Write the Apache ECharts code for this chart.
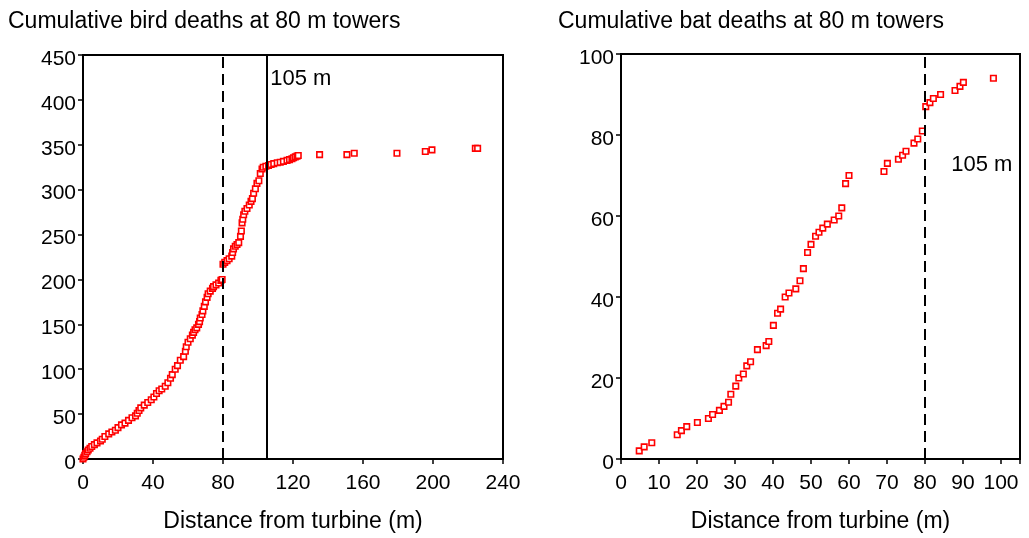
<!DOCTYPE html>
<html>
<head>
<meta charset="utf-8">
<script src="https://cdn.jsdelivr.net/npm/echarts@6/dist/echarts.min.js"></script>
<style>
  html, body { margin: 0; padding: 0; background: #fff; }
  #chart { width: 1029px; height: 538px; }
</style>
</head>
<body>
<div id="chart"></div>
<script>
// cumulative bird deaths vs distance (m)
const birdDist = [0, 0.5, 1, 1.5, 2.3, 3, 4, 5, 6.5, 8, 10, 11, 12.5, 14.7, 16.5, 18.5, 20, 22, 24, 26,
  28, 30, 31, 32, 33, 35, 37, 39, 40.5, 42, 43.5, 45, 47, 48.5, 50, 51, 52.7, 54, 55.6, 57.5,
  58.5, 59, 60, 61.3, 62.5, 63.2, 64, 65, 66, 66.6, 67, 68, 68.5, 69.3, 70, 70.9, 71.5, 72.7, 74, 74.6,
  76, 77.5, 78.8, 79.5, 80, 81, 82.3, 83.5, 85, 85.5, 86, 87, 88, 89, 90, 90.5, 90.9, 91.3, 91.8, 92.5,
  93.7, 95, 96, 96.8, 97.5, 98.5, 99.4, 100.5, 101.3, 102.3, 103, 104.5, 106, 107.5, 109, 111, 112.7, 114.5, 116.6, 118,
  119.4, 120.3, 121.3, 122.3, 123, 135.2, 150.8, 155, 179.4, 195.6, 199.4, 224.2, 225.5];
const birdDeaths = [0, 2, 4, 6, 8, 10, 12, 14, 16, 18, 20, 22, 25, 28, 30, 32, 35, 38, 40, 43,
  46, 48, 51, 54, 57, 60, 63, 66, 69, 73, 76, 78, 81, 85, 90, 94, 100, 104, 110, 114,
  120, 125, 130, 134, 138, 141, 144, 146, 150, 153, 157, 161, 165, 170, 175, 180, 184, 187, 190, 192,
  194, 196, 199, 200, 217, 219, 221, 223, 226, 230, 234, 237, 239, 241, 248, 254, 263, 267, 272, 276,
  279, 283, 287, 290, 296, 301, 307, 310, 318, 323, 325, 326, 327, 328, 329, 330, 330.5, 331.5, 332.6, 333.5,
  334.5, 335.5, 336.5, 337.4, 338, 339, 339, 340.6, 340.6, 342.5, 344.3, 346, 346];

// cumulative bat deaths vs distance (m)
const batDist = [4.8, 6.1, 8.1, 14.8, 15.9, 17.3, 20.1, 23, 24.1, 25.9, 27.1, 28.3, 28.9, 30.2, 31, 32.2, 33.1, 34.1, 35.9, 38.2,
  38.9, 40.1, 41.2, 42, 43.2, 44.2, 46, 47.1, 48, 49.1, 50, 51.2, 52.1, 53.1, 54.3, 56.1, 57.3, 58.1, 59.1, 60,
  69.2, 70.1, 73, 74.1, 75, 77.1, 78.1, 79.3, 80.2, 81.3, 82.2, 84.1, 87.9, 89.2, 90.1, 98];
const batDeaths = [2, 3, 4, 6, 7, 8, 9, 10, 11, 12, 13, 14, 16, 18, 20, 21, 23, 24, 27, 28,
  29, 33, 36, 37, 40, 41, 42, 44, 47, 51, 53, 55, 56, 57, 58, 59, 60, 62, 68, 70,
  71, 73, 74, 75, 76, 78, 79, 81, 87, 88, 89, 90, 91, 92, 93, 94];

const titles = ['Cumulative bird deaths at 80 m towers', 'Cumulative bat deaths at 80 m towers'];
const xName = 'Distance from turbine (m)';

const font = 'Liberation Sans, Arial, sans-serif';
const chart = echarts.init(document.getElementById('chart'));

function pairs(xs, ys) {
  return xs.map((x, i) => [x, ys[i]]);
}

function xAxisOpt(gridIndex, max, interval) {
  return {
    gridIndex, type: 'value', min: 0, max, interval,
    name: xName, nameLocation: 'middle', nameGap: 51,
    nameTextStyle: { color: '#000', fontSize: 23, fontFamily: font },
    axisLine: { lineStyle: { color: '#000', width: 2 } },
    axisTick: { length: 5, lineStyle: { color: '#000', width: 1.5 } },
    axisLabel: {
      color: '#000', fontSize: 21, fontFamily: font, margin: 14,
      formatter: (v) => (v > 100 && v % 10 !== 0 ? '' : v)
    },
    splitLine: { show: false }
  };
}

function yAxisOpt(gridIndex, max, interval) {
  return {
    gridIndex, type: 'value', min: 0, max, interval,
    axisLine: { show: true, lineStyle: { color: '#000', width: 2 } },
    axisTick: { show: true, length: 5, lineStyle: { color: '#000', width: 1.5 } },
    axisLabel: { color: '#000', fontSize: 21, fontFamily: font, margin: 7, verticalAlign: 'top', lineHeight: 8 },
    splitLine: { show: false }
  };
}

const sym = {
  type: 'scatter', symbol: 'rect', symbolSize: 5.5,
  itemStyle: { color: '#fff', borderColor: '#ff0000', borderWidth: 1.6, opacity: 1 },
  animation: false
};

function vline(x, dashed) {
  return { xAxis: x, lineStyle: { color: '#000', width: 2, type: dashed ? [11, 6] : 'solid' } };
}

const titleStyle = { color: '#000', fontSize: 23, fontWeight: 'normal', fontFamily: font };

chart.setOption({
  animation: false,
  title: [
    { text: titles[0], left: 3, top: 5, textStyle: titleStyle },
    { text: titles[1], left: 553, top: 5, textStyle: titleStyle }
  ],
  grid: [
    { left: 83, top: 55, width: 420, height: 409, show: true, borderColor: '#000', borderWidth: 2 },
    { left: 621, top: 54, width: 399, height: 412, show: true, borderColor: '#000', borderWidth: 2 }
  ],
  xAxis: [xAxisOpt(0, 240, 40), xAxisOpt(1, 105, 10)],
  yAxis: [yAxisOpt(0, 450, 50), yAxisOpt(1, 100, 20)],
  series: [
    Object.assign({}, sym, {
      xAxisIndex: 0, yAxisIndex: 0, data: pairs(birdDist, birdDeaths),
      markLine: { silent: true, symbol: ['none', 'none'], label: { show: false }, animation: false,
        data: [vline(80, true), vline(105, false)] }
    }),
    Object.assign({}, sym, {
      xAxisIndex: 1, yAxisIndex: 1, data: pairs(batDist, batDeaths),
      markLine: { silent: true, symbol: ['none', 'none'], label: { show: false }, animation: false,
        data: [vline(80, true)] }
    })
  ]
});

// "105 m" annotations placed in data coordinates
const p1 = chart.convertToPixel({ gridIndex: 0 }, [107, 423]);
const p2 = chart.convertToPixel({ gridIndex: 1 }, [103, 72.5]);
chart.setOption({
  graphic: [
    { type: 'text', x: p1[0], y: p1[1], style: { text: '105 m', fill: '#000', font: '22px ' + font, textVerticalAlign: 'middle' } },
    { type: 'text', x: p2[0], y: p2[1], style: { text: '105 m', fill: '#000', font: '22px ' + font, textAlign: 'right', textVerticalAlign: 'middle' } }
  ]
});
</script>
</body>
</html>
